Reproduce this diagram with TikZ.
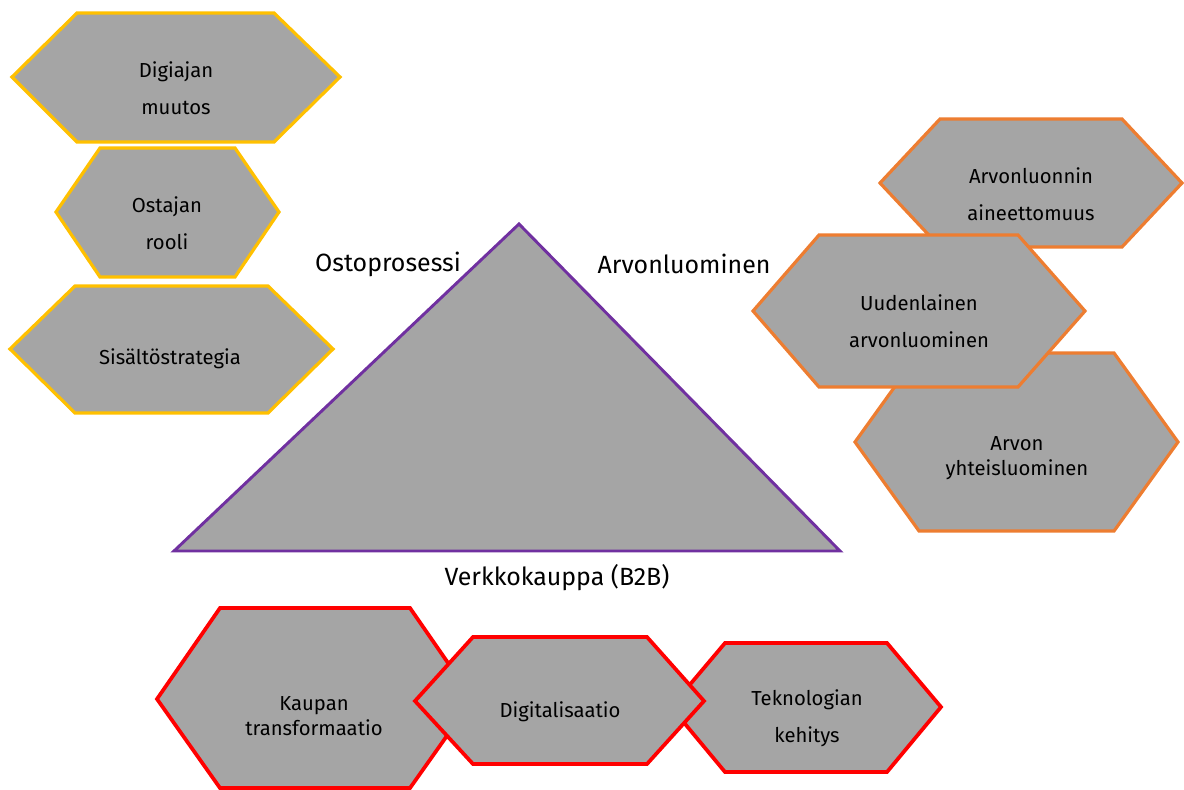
\documentclass[tikz,border=0pt]{standalone}
\usepackage{fontspec}
\setmainfont{Fira Sans}
\definecolor{hexfill}{HTML}{A5A5A5}
\definecolor{cyellow}{HTML}{FFC000}
\definecolor{corange}{HTML}{ED7D31}
\definecolor{cred}{HTML}{FF0000}
\definecolor{cpurple}{HTML}{7030A0}
\begin{document}
\begin{tikzpicture}[x=0.75pt,y=-0.75pt,
  hexY/.style={fill=hexfill,draw=cyellow,line width=2.4pt,line join=miter},
  hexO/.style={fill=hexfill,draw=corange,line width=2.4pt,line join=miter},
  hexR/.style={fill=hexfill,draw=cred,line width=2.8pt,line join=miter},
  tri/.style={fill=hexfill,draw=cpurple,line width=2.2pt,line join=miter},
  hextext/.style={align=center,inner sep=0pt,font=\fontsize{15.2}{27.75}\selectfont},
  hextight/.style={align=center,inner sep=0pt,font=\fontsize{15.2}{19}\selectfont},
  biglabel/.style={inner sep=0pt,font=\fontsize{18.7}{22}\selectfont}]
\useasboundingbox (0,0) rectangle (1184,789);
% yellow hexagons
\draw[hexY] (12,77) -- (77,13) -- (274,13) -- (340,77) -- (274,142) -- (77,142) -- cycle;
\draw[hexY] (56,212) -- (100,148) -- (235,148) -- (279,212) -- (235,277) -- (100,277) -- cycle;
\draw[hexY] (10,349) -- (75,286) -- (268,286) -- (333,349) -- (268,413) -- (75,413) -- cycle;
\node[hextext] (y1) at (176,88) {Digiajan\\muutos};
\node[hextext] (y2) at (167,223) {Ostajan\\rooli};
\node[hextext] (y3) at (170,359) {Sisältöstrategia};
% orange hexagons
\draw[hexO] (880,183) -- (940,119) -- (1122,119) -- (1182,183) -- (1122,247) -- (940,247) -- cycle;
\draw[hexO] (855,442) -- (919,353) -- (1114,353) -- (1178,442) -- (1114,531) -- (919,531) -- cycle;
\draw[hexO] (753,311) -- (819,235) -- (1018,235) -- (1085,311) -- (1018,387) -- (819,387) -- cycle;
\node[hextext] (o1) at (1031,194) {Arvonluonnin\\aineettomuus};
\node[hextext] (o2) at (919,321) {Uudenlainen\\arvonluominen};
\node[hextight] (o3) at (1017,458) {Arvon\\yhteisluominen};
% triangle
\draw[tri] (519,224) -- (840,551) -- (174,551) -- cycle;
\node[biglabel] (lbl1) at (388,264) {Ostoprosessi};
\node[biglabel] (lbl2) at (684,264) {Arvonluominen};
\node[biglabel] (lbl3) at (557,578) {Verkkokauppa (B2B)};
% red hexagons
\draw[hexR] (157,699) -- (220,608) -- (410,608) -- (473,699) -- (410,788) -- (220,788) -- cycle;
\draw[hexR] (671,707) -- (725,643) -- (887,643) -- (941,707) -- (887,772) -- (725,772) -- cycle;
\draw[hexR] (415,701) -- (473,637) -- (647,637) -- (704,701) -- (647,764) -- (473,764) -- cycle;
\node[hextight] (r1) at (314,716) {Kaupan\\transformaatio};
\node[hextext] (r2) at (560,712) {Digitalisaatio};
\node[hextext] (r3) at (807,718) {Teknologian\\kehitys};
\end{tikzpicture}
\end{document}
